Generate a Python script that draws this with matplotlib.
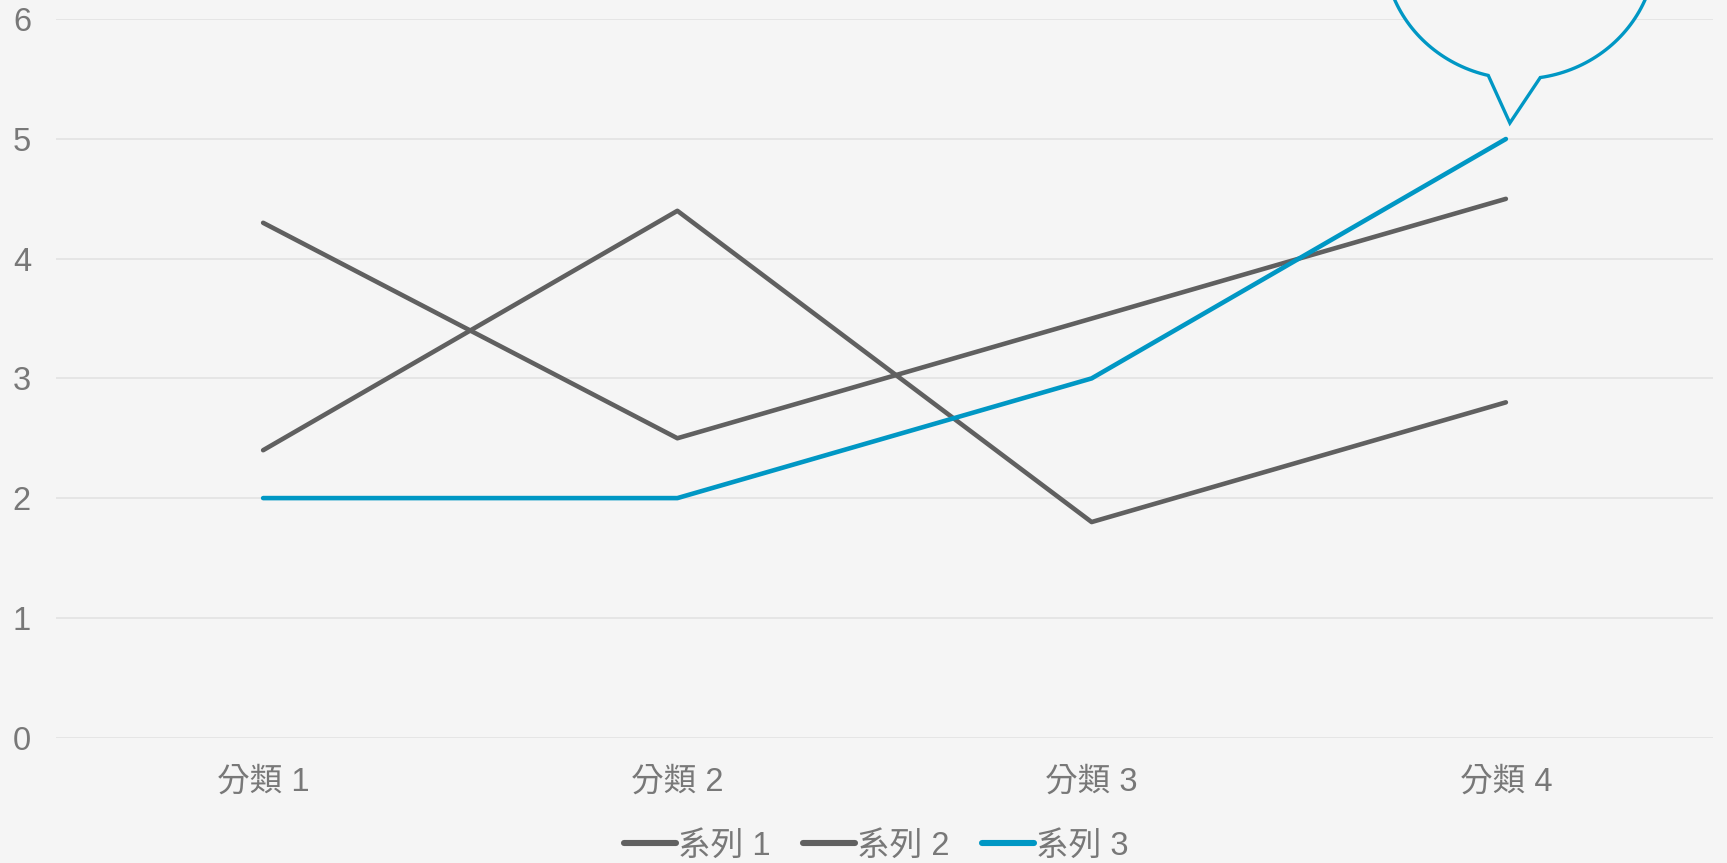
import numpy as np
import matplotlib
matplotlib.use("Agg")
import matplotlib.pyplot as plt
from matplotlib.path import Path
from matplotlib.patches import PathPatch
from matplotlib.transforms import IdentityTransform

plt.rcParams['font.family'] = ['Liberation Sans', 'Noto Sans CJK TC', 'DejaVu Sans']

# ── Data ────────────────────────────────────────────────────────────
categories = ['分類 1', '分類 2', '分類 3', '分類 4']
series_names = ['系列 1', '系列 2', '系列 3']
series1 = [4.3, 2.5, 3.5, 4.5]
series2 = [2.4, 4.4, 1.8, 2.8]
series3 = [2, 2, 3, 5]
yticks = [0, 1, 2, 3, 4, 5, 6]

BG = '#F5F5F5'
GRAY = '#606060'
BLUE = '#0097C4'
TXT = '#787878'
FS = 23.5

fig = plt.figure(figsize=(17.27, 8.63), dpi=100, facecolor=BG)
ax = fig.add_axes([56 / 1727, 125.5 / 863, (1713 - 56) / 1727, (737.5 - 19.3) / 863])
ax.set_facecolor(BG)

x = np.arange(len(categories))
ax.plot(x, series1, color=GRAY, lw=3.3, solid_capstyle='round', label=series_names[0], zorder=3)
ax.plot(x, series2, color=GRAY, lw=3.3, solid_capstyle='round', label=series_names[1], zorder=3)
ax.plot(x, series3, color=BLUE, lw=3.3, solid_capstyle='round', label=series_names[2], zorder=4)

ax.set_xlim(-0.5, len(categories) - 0.5)
ax.set_ylim(0, 6)
ax.set_yticks(yticks)
ax.set_xticks(x)
ax.set_xticklabels(categories)
ax.grid(axis='y', color='#E4E4E4', lw=1.3, zorder=0)
ax.tick_params(axis='both', length=0, labelsize=FS, colors=TXT)
ax.tick_params(axis='y', pad=18)
ax.tick_params(axis='x', pad=21)
for s in ax.spines.values():
    s.set_visible(False)

# ── Callout bubble above the last point of 系列 3 ──────────────────
px, py = ax.transData.transform((x[-1], series3[-1]))
cx, cy = px + 14, py + 190      # ellipse centre (display px)
a, b = 136, 130
tip = (px + 4, py + 16)
t_right = np.arctan2(-126 / b, 20 / a)
t_left = np.arctan2(-124 / b, -31 / a) + 2 * np.pi
t = np.linspace(t_right, t_left, 200)
verts = [(cx + a * np.cos(tt), cy + b * np.sin(tt)) for tt in t]
verts += [tip, verts[0]]
codes = [Path.MOVETO] + [Path.LINETO] * (len(verts) - 2) + [Path.CLOSEPOLY]
bubble = PathPatch(Path(verts, codes), facecolor=BG, edgecolor=BLUE, lw=2.4,
                   transform=IdentityTransform(), clip_on=False, zorder=5,
                   joinstyle='miter')
ax.add_patch(bubble)

leg = fig.legend(loc='center', bbox_to_anchor=(876 / 1727, 17 / 863), ncol=3,
                 frameon=False, fontsize=FS, handlelength=1.6, handletextpad=0.05,
                 columnspacing=1.0, labelcolor=TXT)
for h in leg.legend_handles:
    h.set_linewidth(4.4)

fig.savefig('out.png', dpi=100, facecolor=BG)
